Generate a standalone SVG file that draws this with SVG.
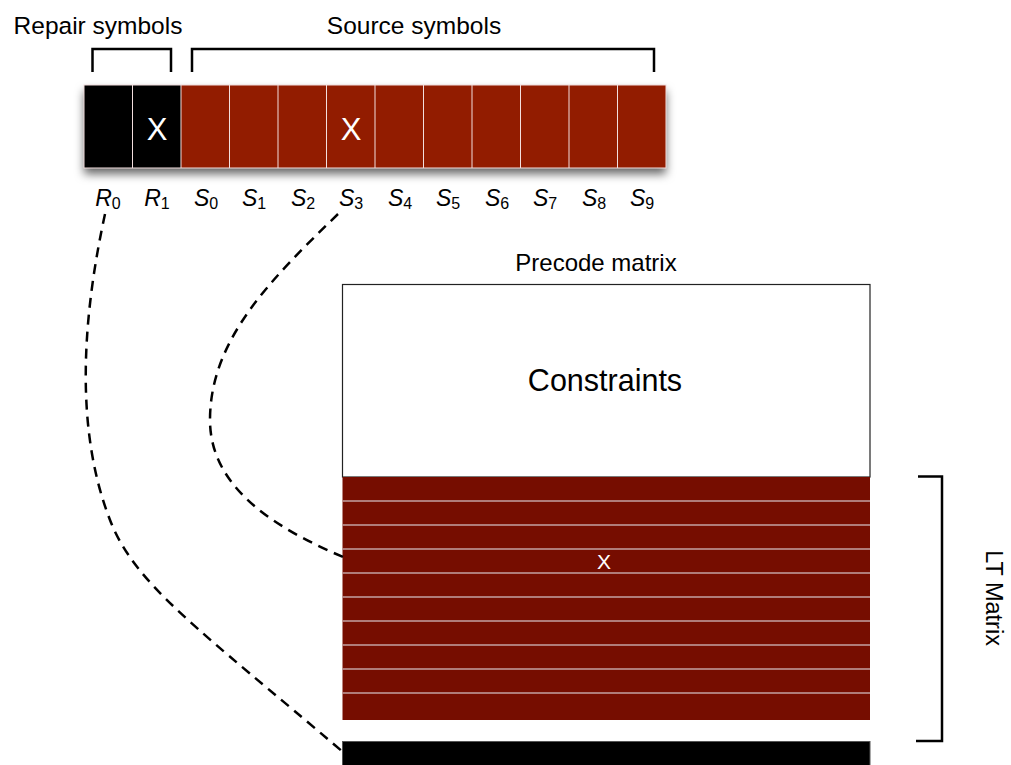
<svg xmlns="http://www.w3.org/2000/svg" width="1011" height="765" viewBox="0 0 1011 765">
  <style>
    .lbl { font-family: "Liberation Sans", Arial, Helvetica, sans-serif; fill: #000; }
    .sym { font-family: "Liberation Sans", Arial, Helvetica, sans-serif; font-style: italic; font-size: 23px; fill: #000; }
    .sub { font-style: normal; font-size: 16px; }
    .mark { font-family: "Liberation Sans", Arial, Helvetica, sans-serif; fill: #fff; text-anchor: middle; }
    .brace { fill: none; stroke: #000; stroke-width: 2.5; }
    .cell-src { fill: #921d00; }
    .cell-rep { fill: #000; }
    .sep { stroke: #f2dede; stroke-width: 1; }
    .row-sep { stroke: #c4a2a2; stroke-width: 1.5; }
    .dash { fill: none; stroke: #000; stroke-width: 2.5; stroke-dasharray: 10 7; }
  </style>
  <defs>
    <filter id="strip-shadow" x="-10%" y="-30%" width="120%" height="170%">
      <feDropShadow dx="0" dy="6" stdDeviation="5" flood-color="#000" flood-opacity="0.6"/>
    </filter>
  </defs>

  <rect width="1011" height="765" fill="#fff"/>

  <!-- group captions and brackets -->
  <g id="repair-bracket">
    <text class="lbl" x="98" y="34" font-size="24.5" text-anchor="middle">Repair symbols</text>
    <polyline class="brace" points="92.5,72 92.5,49 171,49 171,72"/>
  </g>
  <g id="source-bracket">
    <text class="lbl" x="414" y="34" font-size="24.5" text-anchor="middle">Source symbols</text>
    <polyline class="brace" points="192,72 192,49 654,49 654,72"/>
  </g>

  <!-- symbol strip: 2 repair + 10 source cells -->
  <g id="symbol-strip">
    <g filter="url(#strip-shadow)">
      <rect x="84" y="85" width="97" height="83" class="cell-rep"/>
      <rect x="181" y="85" width="485" height="83" class="cell-src"/>
    </g>
    <rect x="84" y="85" width="582" height="83" fill="none" stroke="#f2dede" stroke-width="1"/>
    <g>
      <line class="sep" x1="132.5" y1="85" x2="132.5" y2="168"/>
      <line class="sep" x1="181" y1="85" x2="181" y2="168"/>
      <line class="sep" x1="229.5" y1="85" x2="229.5" y2="168"/>
      <line class="sep" x1="278" y1="85" x2="278" y2="168"/>
      <line class="sep" x1="326.5" y1="85" x2="326.5" y2="168"/>
      <line class="sep" x1="375" y1="85" x2="375" y2="168"/>
      <line class="sep" x1="423.5" y1="85" x2="423.5" y2="168"/>
      <line class="sep" x1="472" y1="85" x2="472" y2="168"/>
      <line class="sep" x1="520.5" y1="85" x2="520.5" y2="168"/>
      <line class="sep" x1="569" y1="85" x2="569" y2="168"/>
      <line class="sep" x1="617.5" y1="85" x2="617.5" y2="168"/>
    </g>
    <text class="mark" x="157" y="140" font-size="31">X</text>
    <text class="mark" x="351" y="140" font-size="31">X</text>
  </g>

  <!-- symbol names -->
  <g id="symbol-labels">
    <text class="sym" x="108" y="206" text-anchor="middle">R<tspan class="sub" dy="3">0</tspan></text>
    <text class="sym" x="157" y="206" text-anchor="middle">R<tspan class="sub" dy="3">1</tspan></text>
    <text class="sym" x="206" y="206" text-anchor="middle">S<tspan class="sub" dy="3">0</tspan></text>
    <text class="sym" x="254" y="206" text-anchor="middle">S<tspan class="sub" dy="3">1</tspan></text>
    <text class="sym" x="303" y="206" text-anchor="middle">S<tspan class="sub" dy="3">2</tspan></text>
    <text class="sym" x="351" y="206" text-anchor="middle">S<tspan class="sub" dy="3">3</tspan></text>
    <text class="sym" x="400" y="206" text-anchor="middle">S<tspan class="sub" dy="3">4</tspan></text>
    <text class="sym" x="448" y="206" text-anchor="middle">S<tspan class="sub" dy="3">5</tspan></text>
    <text class="sym" x="497" y="206" text-anchor="middle">S<tspan class="sub" dy="3">6</tspan></text>
    <text class="sym" x="545" y="206" text-anchor="middle">S<tspan class="sub" dy="3">7</tspan></text>
    <text class="sym" x="594" y="206" text-anchor="middle">S<tspan class="sub" dy="3">8</tspan></text>
    <text class="sym" x="642" y="206" text-anchor="middle">S<tspan class="sub" dy="3">9</tspan></text>
  </g>

  <!-- precode matrix: constraints block -->
  <g id="precode-matrix">
    <text class="lbl" x="596" y="271" font-size="24" text-anchor="middle">Precode matrix</text>
    <rect x="342.5" y="284.5" width="527.5" height="192.5" fill="#fff" stroke="#222" stroke-width="1.2"/>
    <text class="lbl" x="605" y="391" font-size="30.5" text-anchor="middle">Constraints</text>
  </g>

  <!-- LT matrix rows -->
  <g id="lt-matrix">
    <rect x="342.5" y="477" width="527.5" height="243" fill="#760d00"/>
    <line class="row-sep" x1="342.5" y1="501" x2="870" y2="501"/>
    <line class="row-sep" x1="342.5" y1="525" x2="870" y2="525"/>
    <line class="row-sep" x1="342.5" y1="549" x2="870" y2="549"/>
    <line class="row-sep" x1="342.5" y1="573" x2="870" y2="573"/>
    <line class="row-sep" x1="342.5" y1="597" x2="870" y2="597"/>
    <line class="row-sep" x1="342.5" y1="621" x2="870" y2="621"/>
    <line class="row-sep" x1="342.5" y1="645" x2="870" y2="645"/>
    <line class="row-sep" x1="342.5" y1="669" x2="870" y2="669"/>
    <line class="row-sep" x1="342.5" y1="693" x2="870" y2="693"/>
    <text class="mark" x="604" y="569" font-size="21">X</text>
  </g>

  <!-- repair row -->
  <g id="repair-row">
    <rect x="342.5" y="741.5" width="527.5" height="24" fill="#000" stroke="#555" stroke-width="1"/>
  </g>

  <!-- LT matrix bracket -->
  <g id="lt-bracket">
    <polyline class="brace" points="918,476.5 942,476.5 942,741 916,741"/>
    <text class="lbl" x="0" y="0" font-size="23.5" text-anchor="middle" transform="translate(986,598) rotate(90)">LT Matrix</text>
  </g>

  <!-- dashed connectors from symbols to matrix rows -->
  <g id="connectors">
    <path class="dash" d="M105,214 C82,320 75,430 110,520 C135,585 200,630 343,752"/>
    <path class="dash" d="M338,214 C270,280 210,340 210,420 C210,490 280,530 343,557"/>
  </g>
</svg>
